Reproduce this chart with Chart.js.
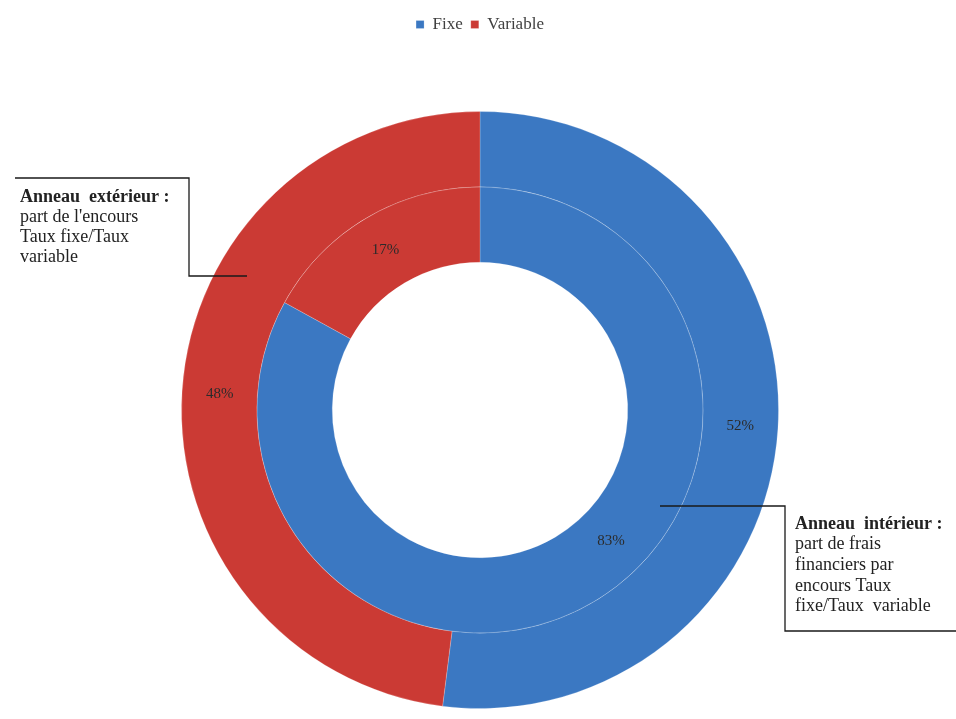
<!DOCTYPE html>
<html>
<head>
<meta charset="utf-8">
<script src="https://cdn.jsdelivr.net/npm/chart.js@4"></script>
<style>
  html, body { margin: 0; padding: 0; background: #fff; }
  #wrap { width: 956px; height: 719px; position: relative; }
</style>
</head>
<body>
<div id="wrap"><canvas id="ring"></canvas></div>
<script>
// data
const categories = ['Fixe', 'Variable'];
const outerValues = [52, 48];   // part de l'encours
const innerValues = [83, 17];   // part de frais financiers
const ringNames = ['Anneau extérieur', 'Anneau intérieur'];
const sliceColors = ['#3B78C2', '#CB3A34'];

const outerNote = ['Anneau  extérieur :', "part de l'encours", 'Taux fixe/Taux', 'variable'];
const innerNote = ['Anneau  intérieur :', 'part de frais', 'financiers par', 'encours Taux', 'fixe/Taux  variable'];

const serif = '"Liberation Serif", "DejaVu Serif", serif';

// leave a gap under the legend, as in the original
const legendGap = {
  id: 'legendGap',
  beforeInit(chart) {
    const fit = chart.legend.fit;
    chart.legend.fit = function () {
      fit.bind(chart.legend)();
      this.height = 103;
    };
  }
};

// percentage labels in the middle of each slice
const sliceLabels = {
  id: 'sliceLabels',
  afterDatasetsDraw(chart) {
    const ctx = chart.ctx;
    ctx.save();
    ctx.font = '15px ' + serif;
    ctx.fillStyle = '#2b2b2b';
    ctx.textAlign = 'center';
    ctx.textBaseline = 'middle';
    chart.data.datasets.forEach((ds, di) => {
      const meta = chart.getDatasetMeta(di);
      meta.data.forEach((arc, i) => {
        const p = arc.getProps(['x', 'y', 'startAngle', 'endAngle', 'innerRadius', 'outerRadius'], true);
        let mid = (p.startAngle + p.endAngle) / 2;
        if (di === 1 && i === 0) mid -= 0.25; // 83% sits a bit higher in the original
        const r = (p.innerRadius + p.outerRadius) / 2;
        ctx.fillText(ds.data[i] + '%', p.x + Math.cos(mid) * r, p.y + Math.sin(mid) * r);
      });
    });
    ctx.restore();
  }
};

// callout boxes
const callouts = {
  id: 'callouts',
  afterDraw(chart) {
    const ctx = chart.ctx;
    ctx.save();
    ctx.strokeStyle = '#1a1a1a';
    ctx.lineWidth = 1.3;

    // left: outer ring
    ctx.beginPath();
    ctx.moveTo(15, 178);
    ctx.lineTo(189, 178);
    ctx.lineTo(189, 276);
    ctx.lineTo(247, 276);
    ctx.stroke();

    // right: inner ring
    ctx.beginPath();
    ctx.moveTo(660, 506);
    ctx.lineTo(785, 506);
    ctx.lineTo(785, 631);
    ctx.lineTo(956, 631);
    ctx.stroke();

    ctx.fillStyle = '#222';
    ctx.textAlign = 'left';
    ctx.textBaseline = 'middle';
    outerNote.forEach((t, i) => {
      ctx.font = (i === 0 ? 'bold ' : '') + '18px ' + serif;
      ctx.fillText(t, 20, 197 + i * 20);
    });
    innerNote.forEach((t, i) => {
      ctx.font = (i === 0 ? 'bold ' : '') + '18px ' + serif;
      ctx.fillText(t, 795, 524 + i * 20.6);
    });
    ctx.restore();
  }
};

new Chart(document.getElementById('ring'), {
  type: 'doughnut',
  data: {
    labels: categories,
    datasets: [
      { label: ringNames[0], data: outerValues, backgroundColor: sliceColors,
        borderWidth: 1, borderColor: 'rgba(255,255,255,0.2)' },
      { label: ringNames[1], data: innerValues, backgroundColor: sliceColors,
        borderWidth: 1, borderColor: 'rgba(255,255,255,0.2)' }
    ]
  },
  options: {
    responsive: true,
    maintainAspectRatio: false,
    animation: false,
    cutout: '49.5%',
    layout: { padding: { top: 8, bottom: 10, left: 4, right: 0 } },
    plugins: {
      legend: {
        position: 'top',
        labels: {
          boxWidth: 8, boxHeight: 8, padding: 8,
          color: '#404040',
          font: { family: serif, size: 17 }
        }
      },
      tooltip: { enabled: false }
    }
  },
  plugins: [legendGap, sliceLabels, callouts]
});
</script>
</body>
</html>
